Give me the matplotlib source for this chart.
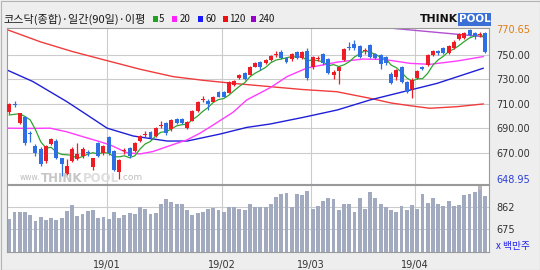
import matplotlib
matplotlib.use('Agg')
import matplotlib.pyplot as plt
from matplotlib.patches import Rectangle

# ---------------- data ----------------
opens = [703.4, 710.0, 694.4, 699.3, 686.0, 675.5, 673.0, 663.2, 677.0, 679.8,
         665.4, 653.0, 663.4, 665.0, 667.0, 670.8, 658.0, 677.7, 669.5, 682.5,
         671.7, 654.5, 671.0, 673.6, 671.6, 679.8, 684.5, 687.0, 683.6, 692.0,
         694.0, 689.0, 697.5, 697.5, 690.0, 696.0, 704.2, 713.3, 712.4, 711.6,
         719.7, 719.7, 719.0, 725.0, 730.6, 735.0, 733.3, 740.0, 744.0, 742.8,
         745.5, 749.8, 752.3, 747.0, 746.0, 752.3, 747.0, 753.0, 739.6, 746.5,
         750.4, 746.0, 733.3, 736.8, 745.5, 756.4, 758.6, 757.0, 752.5, 757.7,
         750.4, 749.6, 747.7, 734.5, 732.0, 740.0, 727.8, 721.6, 730.6, 739.6,
         741.4, 749.8, 753.0, 755.0, 751.0, 755.0, 762.4, 763.2, 770.0, 767.3,
         766.2, 767.3]
highs = [710.5, 712.0, 702.5, 700.0, 688.0, 677.0, 675.0, 676.5, 682.0, 681.0,
         666.0, 665.0, 675.0, 678.0, 674.5, 672.5, 666.0, 679.0, 676.5, 683.5,
         672.5, 665.0, 674.0, 674.5, 679.0, 684.5, 687.5, 688.0, 691.0, 695.5,
         695.0, 697.5, 698.5, 698.5, 695.5, 705.0, 712.5, 716.5, 713.5, 716.5,
         720.5, 720.5, 728.5, 729.0, 734.0, 736.0, 740.5, 743.5, 745.0, 746.5,
         749.8, 752.5, 753.5, 748.0, 751.0, 753.0, 753.0, 755.0, 748.5, 749.0,
         751.5, 747.0, 737.0, 740.5, 755.5, 760.0, 762.0, 758.0, 755.5, 758.5,
         751.5, 750.5, 748.5, 735.5, 738.5, 741.0, 728.5, 731.0, 737.5, 740.5,
         750.5, 754.0, 754.0, 756.0, 758.0, 761.5, 767.5, 768.5, 770.65, 768.5,
         768.5, 768.0]
lows = [701.5, 707.5, 693.5, 676.0, 679.0, 667.5, 659.5, 662.0, 676.0, 664.5,
        651.0, 652.0, 662.5, 664.0, 666.0, 667.5, 656.0, 666.5, 668.5, 668.0,
        655.0, 648.95, 669.0, 666.0, 670.5, 679.0, 683.0, 680.5, 683.0, 690.0,
        684.5, 688.0, 693.5, 693.5, 689.0, 695.5, 703.5, 711.5, 704.8, 711.0,
        715.0, 715.0, 718.5, 724.5, 730.0, 729.0, 733.0, 739.5, 737.0, 742.0,
        744.5, 748.0, 746.5, 743.0, 745.0, 746.0, 746.0, 729.5, 738.5, 745.0,
        741.5, 734.0, 730.0, 726.0, 745.0, 754.0, 754.0, 747.0, 750.5, 747.0,
        746.0, 738.0, 741.5, 726.0, 729.0, 727.0, 718.5, 714.3, 730.0, 737.0,
        741.0, 749.0, 750.0, 750.5, 750.5, 754.5, 762.0, 762.5, 765.0, 763.0,
        764.5, 751.6]
closes = [709.7, 709.2, 702.0, 677.7, 685.0, 670.0, 660.5, 675.7, 681.0, 665.4,
          660.5, 659.0, 673.0, 669.0, 673.0, 669.8, 665.4, 667.3, 675.5, 670.0,
          656.0, 664.0, 672.0, 667.3, 678.0, 683.6, 685.3, 681.7, 690.0, 692.8,
          685.8, 696.6, 694.4, 694.2, 694.8, 704.0, 711.6, 714.0, 709.7, 715.6,
          715.6, 715.6, 727.8, 728.4, 733.3, 729.8, 739.6, 742.8, 739.5, 745.8,
          749.0, 750.4, 747.5, 744.0, 750.4, 747.0, 752.3, 730.6, 747.7, 747.2,
          742.8, 735.2, 736.0, 739.6, 754.5, 755.0, 755.0, 748.2, 753.3, 747.7,
          747.0, 742.3, 742.8, 727.0, 737.4, 727.8, 719.7, 729.5, 736.5, 738.0,
          749.6, 752.8, 751.0, 751.5, 757.0, 760.4, 766.7, 767.3, 766.0, 765.0,
          767.0, 752.3]
volumes = [764, 820, 815, 815, 795, 742, 778, 756, 770, 756,
           770, 829, 879, 786, 801, 829, 837, 770, 778, 761,
           820, 773, 790, 809, 801, 857, 842, 801, 809, 885,
           924, 904, 885, 885, 837, 795, 809, 820, 842, 854,
           837, 815, 857, 857, 842, 837, 885, 857, 857, 857,
           885, 941, 963, 974, 857, 968, 955, 988, 842, 865,
           912, 935, 924, 837, 885, 885, 815, 932, 842, 983,
           932, 885, 857, 837, 820, 865, 837, 879, 842, 968,
           896, 932, 885, 871, 907, 865, 873, 955, 968, 983,
           1025, 949]

ma5 = [700.7, 701.3, 701.8, 699.5, 696.7, 688.8, 679.0, 673.8, 674.4, 670.5,
       668.6, 668.3, 667.8, 665.4, 666.9, 668.8, 670.0, 668.9, 670.2, 669.6,
       666.8, 666.6, 667.5, 665.9, 667.5, 673.0, 677.2, 679.2, 683.7, 686.7,
       687.1, 689.4, 691.9, 692.8, 693.2, 696.8, 699.8, 703.7, 706.8, 711.0,
       713.3, 714.1, 716.9, 720.6, 724.1, 727.0, 731.8, 734.8, 737.0, 739.5,
       743.3, 745.5, 746.4, 747.3, 748.3, 747.9, 748.2, 744.9, 745.6, 745.0,
       744.1, 740.7, 741.8, 740.2, 741.6, 744.1, 748.0, 750.5, 753.2, 751.8,
       750.2, 747.7, 746.6, 741.4, 739.3, 735.5, 730.9, 728.3, 730.2, 730.3,
       734.7, 741.3, 745.6, 748.6, 752.4, 754.5, 757.3, 760.6, 763.5, 765.1,
       766.4, 763.5]

ma20_pos = [-0.44, 4, 7.8, 11, 14.1, 17.3, 19.3, 22.5, 25, 27.5, 30.2, 34, 36.5,
            38.4, 42.8, 45.4, 49.9, 53.1, 56.9, 62.7, 67.6, 71.5, 74, 76.6, 80.4,
            85.6, 90.6]
ma20_val = [690, 689.8, 690, 687, 683, 679, 676.3, 670, 669, 671, 675, 680.5, 686,
            691, 703, 713, 723, 732, 739, 743.8, 746.3, 746, 744.5, 742.8, 742,
            744.7, 748.3]
ma60_pos = [-0.44, 4.5, 11, 14.9, 18.7, 23.7, 30.2, 34, 40.3, 45.4, 49.9, 56.2,
            62.7, 69, 76.6, 81.8, 90.6]
ma60_val = [737.4, 728, 711.6, 700.7, 690, 683.6, 679.5, 679.5, 685.2, 690.6,
            693.4, 698.8, 704.8, 713, 721, 726.5, 738.8]
ma120_pos = [-0.44, 5.9, 12, 18.7, 25, 31.3, 37, 42.8, 49.9, 56, 62.6, 69, 73,
             76.6, 80.4, 85.6, 90.6]
ma120_val = [770.3, 760.4, 752.5, 745, 738, 732, 729, 726.5, 723.8, 721.5,
             719.7, 714.3, 710.5, 708.3, 706.2, 707.5, 709.7]
ma240_pos = [72.5, 73.4, 78, 82.3, 86.2, 90.6]
ma240_val = [772.3, 771.3, 769.5, 767.8, 766.3, 764.5]

price_ticks = [670, 690, 710, 730, 750]
price_max = 770.65
price_min = 648.95
vol_ticks = [675, 862]
month_idx = [19, 41, 58, 78]
month_labels = ['19/01', '19/02', '19/03', '19/04']

title = '코스닥(종합)·일간(90일)·이평'
legend_labels = ['5', '20', '60', '120', '240']

# ---------------- styling ----------------
W, H = 540, 270
UP = '#ee1c25'
DOWN = '#2f6fe4'
MA_COLORS = ['#2fa52f', '#ff3cff', '#1f1fd8', '#f03c3c', '#b050d0']
LEG_COLORS = ['#22a022', '#ff22ff', '#1a1aff', '#ee1111', '#9900cc']
GRID = '#cccccc'
FRAME = '#9a9a9a'
CJK = ['Noto Sans CJK KR', 'DejaVu Sans']

fig = plt.figure(figsize=(5.4, 2.7), dpi=100)
fig.patch.set_facecolor('#eeeeee')


def fx(x):
    return x / W


def fy(y):
    return 1 - y / H


L, R = 7, 489
PT, PB = 28, 184
VT, VB = 185, 252
axp = fig.add_axes([fx(L), fy(PB), (R - L) / W, (PB - PT) / H])
axv = fig.add_axes([fx(L), fy(VB), (R - L) / W, (VB - VT) / H])

n = len(closes)
xs = list(range(n))
XL = (-0.44, 91.72)

for ax in (axp, axv):
    ax.set_facecolor('white')
    ax.set_xlim(*XL)
    for s in ax.spines.values():
        s.set_color(FRAME)
        s.set_linewidth(0.8)
    for m in month_idx:
        ax.axvline(m - 0.4, color=GRID, lw=0.8, zorder=0)

# ---- price panel ----
axp.set_ylim(644.5, 771.6)
for t in price_ticks:
    axp.axhline(t, color=GRID, lw=0.8, zorder=0)

# watermark (figure-pixel placement)
wm_y = fy(178)
fig.text(fx(20), wm_y, 'www.', fontsize=5.5, color='#bdbdbd', va='center', ha='left', zorder=0.5)
fig.text(fx(41), wm_y, 'THINK', fontsize=8.5, color='#c6c6c6', fontweight='bold',
         va='center', ha='left', zorder=0.5)
fig.text(fx(83), wm_y, 'POOL', fontsize=8.5, color='#dedede', fontweight='bold',
         va='center', ha='left', zorder=0.5)
fig.text(fx(120), wm_y, '.com', fontsize=6.5, color='#bdbdbd', va='center', ha='left',
         zorder=0.5)

# moving averages
axp.plot(ma120_pos, ma120_val, color=MA_COLORS[3], lw=1.0, zorder=2)
axp.plot(ma60_pos, ma60_val, color=MA_COLORS[2], lw=1.0, zorder=2)
axp.plot(ma20_pos, ma20_val, color=MA_COLORS[1], lw=1.0, zorder=2)
axp.plot(ma240_pos, ma240_val, color=MA_COLORS[4], lw=1.0, zorder=2)
axp.plot(xs, ma5, color=MA_COLORS[0], lw=0.9, zorder=2)

# candles
cols = [UP if c >= o else DOWN for o, c in zip(opens, closes)]
axp.vlines(xs, lows, highs, colors=cols, lw=0.9, zorder=3)
bottoms = [min(o, c) for o, c in zip(opens, closes)]
heights = [max(abs(c - o), 0.8) for o, c in zip(opens, closes)]
axp.bar(xs, heights, bottom=bottoms, width=0.76, color=cols, linewidth=0, zorder=4)

ptick_vals = [price_min] + price_ticks + [price_max]
axp.yaxis.tick_right()
axp.set_yticks(ptick_vals)
axp.set_yticklabels([f'{v:.2f}' for v in ptick_vals])
axp.tick_params(axis='y', length=0, pad=5.5, labelsize=7, labelcolor='#333333')
tl = axp.get_yticklabels()
tl[0].set_color('#2a3fd8')
tl[-1].set_color('#e07b10')
axp.set_xticks([])

# ---- volume panel ----
axv.set_ylim(490, 1040)
for t in vol_ticks:
    axv.axhline(t, color=GRID, lw=0.8, zorder=0)
axv.bar(xs, volumes, width=0.74, color='#a1aabe', linewidth=0, zorder=2)
axv.yaxis.tick_right()
axv.set_yticks(vol_ticks)
axv.set_yticklabels([str(v) for v in vol_ticks])
axv.tick_params(axis='y', length=0, pad=5.5, labelsize=7, labelcolor='#333333')
axv.set_xticks([m - 0.4 for m in month_idx])
axv.set_xticklabels(month_labels)
axv.tick_params(axis='x', length=0, pad=6, labelsize=7, labelcolor='#333333')

fig.text(fx(496), fy(245.5), 'x 백만주', fontsize=7, color='#2020ee', family=CJK,
         va='center', ha='left')
fig.add_artist(Rectangle((fx(478), fy(189.5)), 4 / W, 4 / H, transform=fig.transFigure,
                         facecolor='#b5b5b5', edgecolor='none'))

# ---- header ----
fig.text(fx(3), fy(19), title, fontsize=8, family=CJK, color='#1a1a1a',
         va='center', ha='left')
sq_x = [152.7, 171.7, 197.7, 222.7, 251.0]
num_x = [158.5, 179.5, 206.0, 229.5, 258.5]
for c, sx, nx, lab in zip(LEG_COLORS, sq_x, num_x, legend_labels):
    fig.add_artist(Rectangle((fx(sx), fy(22.3)), 5 / W, 6.5 / H, transform=fig.transFigure,
                             facecolor=c, edgecolor='none'))
    fig.text(fx(nx), fy(19), lab, fontsize=7, family=CJK, color='#1a1a1a',
             va='center', ha='left')

# logo
fig.text(fx(420), fy(19.5), 'THINK', fontsize=7.8, fontweight='heavy', color='#111111',
         va='center', ha='left')
fig.add_artist(Rectangle((fx(458), fy(26)), 33 / W, 13 / H, transform=fig.transFigure,
                         facecolor='#3b6fd6', edgecolor='none'))
fig.text(fx(474.5), fy(19.5), 'POOL', fontsize=7.5, fontweight='bold', color='white',
         va='center', ha='center')

fig.add_artist(Rectangle((0.5 / W, 0.5 / H), 1 - 1 / W, 1 - 1 / H, transform=fig.transFigure,
                         facecolor='none', edgecolor='#b4b4b4', lw=0.8))

fig.savefig('out.png', dpi=100, facecolor=fig.get_facecolor())
